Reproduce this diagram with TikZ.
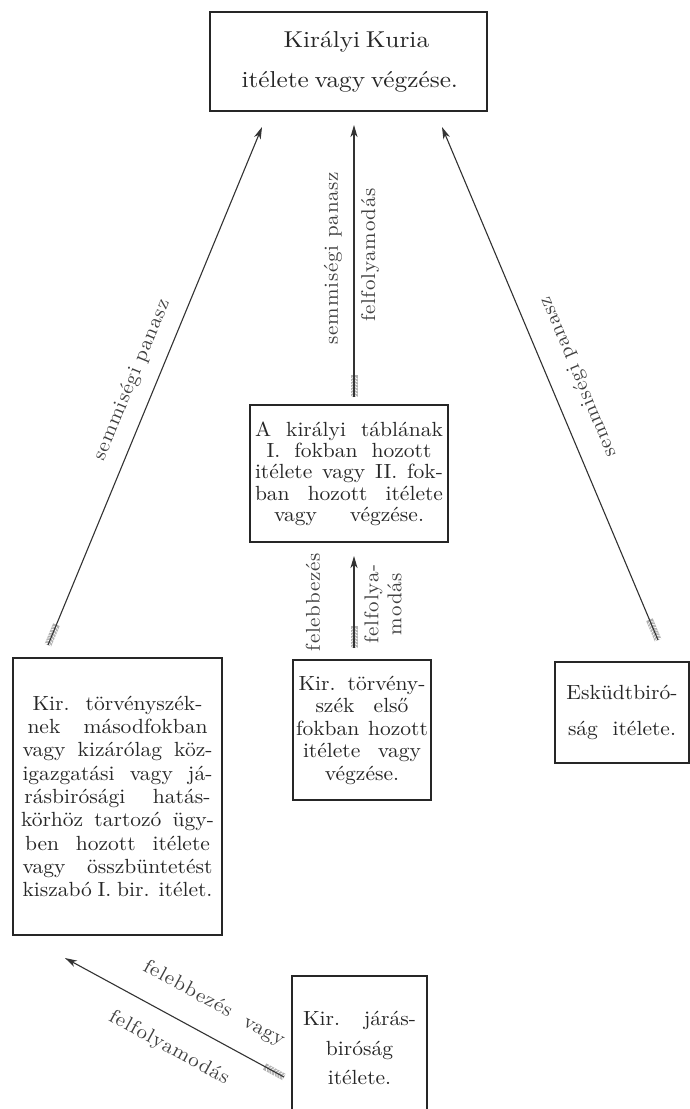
\documentclass[tikz,border=0pt]{standalone}
\usepackage{fontspec}
\usetikzlibrary{arrows.meta}
\newfontfamily\oldf{lmroman10-regular.otf}[FakeStretch=1.1]
\newfontfamily\boxf{lmroman10-regular.otf}[FakeStretch=1.05]
\newfontfamily\labf{lmroman10-regular.otf}[FakeStretch=1.05, LetterSpace=4]
\newcommand\bxf{\boxf\fontsize{20.5}{21.3}\selectfont}
\newcommand\lbf{\labf\fontsize{20}{23}\selectfont}
\newcommand\jl[2][188pt]{\makebox[#1][s]{#2}}
\tikzset{
  box/.style={draw=black!85, line width=1.6pt, inner sep=0pt, outer sep=0pt,
    align=center, text=black!85, font=\bxf},
  lbl/.style={inner sep=0pt, text=black!75, font=\lbf, align=center},
  conn/.style={draw=black!80, line width=1.1pt,
    -{Stealth[length=12pt,width=7pt,inset=3.5pt]}},
  feather/.pic={
    \fill[black!30] (0,-3.5) rectangle (22,3.5);
    \foreach \i in {0,3,...,20} {\draw[white, line width=0.7pt] (\i,-3.5) -- (\i+2,0) -- (\i,3.5);}
  }
}
\begin{document}
\begin{tikzpicture}[x=1pt,y=-1pt]
\useasboundingbox (0,0) rectangle (690,1109);
\fill[white] (0,0) rectangle (690,1109);

% boxes
\node[box, minimum width=277pt, minimum height=99pt, font=\oldf\fontsize{23}{24}\selectfont] (kuria) at (348.5,61.5)
  {\jl[130pt]{Királyi Kuria}\\[16pt]\jl[214pt]{itélete vagy végzése.}};
\node[box, minimum width=198pt, minimum height=137pt] (tabla) at (349,473.5)
  {\jl{A királyi táblának}\\\jl[165pt]{I. fokban hozott}\\\jl{itélete vagy II. fok-}\\\jl{ban hozott itélete}\\\jl[150pt]{vagy végzése.}};
\node[box, minimum width=209pt, minimum height=277pt, font=\boxf\fontsize{20.5}{23.3}\selectfont] (torv) at (117.5,796.5)
  {\jl[170pt]{Kir. törvényszék-}\\\jl[180pt]{nek másodfokban}\\\jl[190pt]{vagy kizárólag köz-}\\\jl[190pt]{igazgatási vagy já-}\\\jl[186pt]{rásbirósági hatás-}\\\jl[193pt]{körhöz tartozó ügy-}\\\jl[185pt]{ben hozott itélete}\\\jl[190pt]{vagy összbüntetést}\\\jl[190pt]{kiszabó I. bir. itélet.}};
\node[box, minimum width=138pt, minimum height=140pt, font=\boxf\fontsize{20.5}{22.5}\selectfont] (torvI) at (362,730)
  {\jl[127pt]{Kir. törvény-}\\\jl[93pt]{szék első}\\\jl[132pt]{fokban hozott}\\\jl[118pt]{itélete vagy}\\végzése.};
\node[box, minimum width=134pt, minimum height=101pt] (esku) at (622,712.5)
  {Esküdtbiró-\\[15pt]\jl[108pt]{ság itélete.}};
\node[box, minimum width=135pt, minimum height=144pt, font=\boxf\fontsize{20.5}{29.5}\selectfont] (jaras) at (359.5,1048)
  {\jl[113pt]{Kir. járás-}\\biróság\\itélete.};

% connector end points
\coordinate (Lt) at (48,645);   \coordinate (Lh) at (262,127);
\coordinate (Ct) at (354,397);  \coordinate (Ch) at (354,125);
\coordinate (Rt) at (658,640);  \coordinate (Rh) at (442,127);
\coordinate (St) at (354,648);  \coordinate (Sh) at (354,556);
\coordinate (Bt) at (284,1077); \coordinate (Bh) at (65,958);

\pic[rotate=67.5] at (Lt) {feather};
\pic[rotate=90] at (Ct) {feather};
\pic[rotate=112.8] at (Rt) {feather};
\pic[rotate=90] at (St) {feather};
\pic[rotate=151.5] at (Bt) {feather};

\draw[conn] (Lt) -- (Lh);
\draw[conn] (Ct) -- (Ch);
\draw[conn] (Rt) -- (Rh);
\draw[conn] (St) -- (Sh);
\draw[conn] (Bt) -- (Bh);

% labels
\node[lbl, rotate=67.5] (lL) at (132,380) {semmiségi panasz};
\node[lbl, rotate=90] (lC1) at (333,258) {semmiségi panasz};
\node[lbl, rotate=90] (lC2) at (370,255) {felfolyamodás};
\node[lbl, rotate=112.8] (lR) at (578,377) {semmiségi panasz};
\node[lbl, rotate=90] (lS1) at (313,602) {felebbezés};
\node[lbl, rotate=90] (lS2) at (383,604) {felfolya-\\modás};
\node[lbl, rotate=-28.6] (lB1) at (214,1004) {felebbezés\ \ vagy};
\node[lbl, rotate=-28.6] (lB2) at (169,1048) {felfolyamodás};
\end{tikzpicture}
\end{document}
